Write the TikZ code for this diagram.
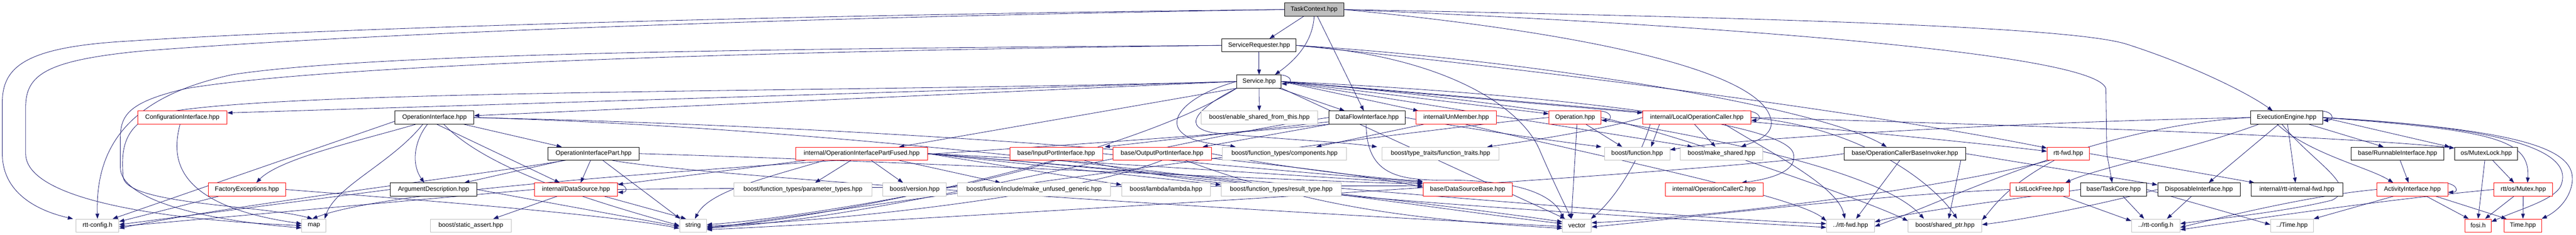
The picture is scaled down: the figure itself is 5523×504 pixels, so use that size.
\documentclass[tikz,border=0pt]{standalone}
\usepackage{fontspec}
\usepackage{tikz}
\usetikzlibrary{arrows.meta,positioning,backgrounds}
\newfontfamily\dotfont{Liberation Sans}
\definecolor{edgeblue}{HTML}{191970}
\definecolor{boxgray}{HTML}{BFBFBF}
\definecolor{boxred}{HTML}{FF0000}
\tikzset{
  hfile/.style={draw, line width=1pt, minimum height=28pt, inner sep=0pt,
    font=\dotfont\fontsize{13.5}{15}\selectfont, fill=white},
  file/.style={hfile, draw=black},
  redfile/.style={hfile, draw=boxred},
  sysfile/.style={hfile, draw=boxgray},
  topfile/.style={hfile, draw=black, fill=boxgray},
  dep/.style={draw=edgeblue, line width=0.9pt,
    -{Triangle[length=11pt,width=8pt]}, fill=none}
}
\begin{document}
\begin{tikzpicture}[x=1pt,y=-1pt]
        \useasboundingbox (0,0) rectangle (5523,504);
        % rows
        \node[topfile, minimum width=127pt] (tc) at (2817.5,20.5) {TaskContext.hpp};
        \node[file, minimum width=159pt] (sr) at (2699.5,97.5) {ServiceRequester.hpp};
        \node[file, minimum width=95pt] (svc) at (2699.5,175) {Service.hpp};
        \node[redfile, minimum width=192pt] (cfg) at (391,252.5) {ConfigurationInterface.hpp};
        \node[file, minimum width=169pt] (opi) at (931.5,252.5) {OperationInterface.hpp};
        \node[sysfile, minimum width=250pt] (esft) at (2700,252.5) {boost/enable\_shared\_from\_this.hpp};
        \node[file, minimum width=164pt] (dfi) at (2931,252.5) {DataFlowInterface.hpp};
        \node[redfile, minimum width=172pt] (unm) at (3122,252.5) {internal/UnMember.hpp};
        \node[redfile, minimum width=112pt] (op) at (3377,252.5) {Operation.hpp};
        \node[redfile, minimum width=232pt] (loc) at (3638,252.5) {internal/LocalOperationCaller.hpp};
        \node[file, minimum width=155pt] (ee) at (4902.5,252.5) {ExecutionEngine.hpp};
        \node[file, minimum width=195pt] (oip) at (1272.5,330) {OperationInterfacePart.hpp};
        \node[redfile, minimum width=283pt] (oipf) at (1847.5,330) {internal/OperationInterfacePartFused.hpp};
        \node[redfile, minimum width=199pt] (ipi) at (2264.5,330) {base/InputPortInterface.hpp};
        \node[redfile, minimum width=211pt] (opo) at (2491.5,330) {base/OutputPortInterface.hpp};
        \node[sysfile, minimum width=266pt] (comp) at (2754,330) {boost/function\_types/components.hpp};
        \node[sysfile, minimum width=251pt] (ftr) at (3088.5,330) {boost/type\_traits/function\_traits.hpp};
        \node[sysfile, minimum width=140pt] (bfn) at (3510,330) {boost/function.hpp};
        \node[sysfile, minimum width=176pt] (mks) at (3691,330) {boost/make\_shared.hpp};
        \node[file, minimum width=260pt] (ocbi) at (4084,330) {base/OperationCallerBaseInvoker.hpp};
        \node[redfile, minimum width=91pt] (fwd) at (4434.5,330) {rtt-fwd.hpp};
        \node[file, minimum width=199pt] (run) at (5140.5,330) {base/RunnableInterface.hpp};
        \node[file, minimum width=135pt] (mlock) at (5330.5,330) {os/MutexLock.hpp};
        \node[redfile, minimum width=165pt] (fexc) at (529.5,407) {FactoryExceptions.hpp};
        \node[file, minimum width=185pt] (arg) at (929.5,407) {ArgumentDescription.hpp};
        \node[redfile, minimum width=178pt] (ds) at (1235,407) {internal/DataSource.hpp};
        \node[sysfile, minimum width=297pt] (ptyp) at (1721.5,407) {boost/function\_types/parameter\_types.hpp};
        \node[sysfile, minimum width=136pt] (ver) at (1961,407) {boost/version.hpp};
        \node[sysfile, minimum width=328pt] (unf) at (2217,407) {boost/fusion/include/make\_unfused\_generic.hpp};
        \node[sysfile, minimum width=190pt] (lam) at (2500,407) {boost/lambda/lambda.hpp};
        \node[sysfile, minimum width=258pt] (rtyp) at (2747,407) {boost/function\_types/result\_type.hpp};
        \node[redfile, minimum width=191pt] (dsb) at (3146.5,407) {base/DataSourceBase.hpp};
        \node[redfile, minimum width=210pt] (occ) at (3675,407) {internal/OperationCallerC.hpp};
        \node[redfile, minimum width=128pt] (llf) at (4373,407) {ListLockFree.hpp};
        \node[file, minimum width=141pt] (tcore) at (4531.5,407) {base/TaskCore.hpp};
        \node[file, minimum width=177pt] (disp) at (4714.5,407) {DisposableInterface.hpp};
        \node[file, minimum width=197pt] (ifwd) at (4924.5,407) {internal/rtt-internal-fwd.hpp};
        \node[redfile, minimum width=152pt] (act) at (5172,407) {ActivityInterface.hpp};
        \node[redfile, minimum width=126pt] (mtx) at (5410,407) {rtt/os/Mutex.hpp};
        \node[sysfile, minimum width=92pt] (cfgh) at (209,484.5) {rtt-config.h};
        \node[sysfile, minimum width=52pt] (map) at (673,484.5) {map};
        \node[sysfile, minimum width=173pt] (sa) at (1009.5,484.5) {boost/static\_assert.hpp};
        \node[sysfile, minimum width=58pt] (str) at (1486,484.5) {string};
        \node[sysfile, minimum width=62pt] (vec) at (3381,484.5) {vector};
        \node[sysfile, minimum width=103pt] (pfwd) at (3967.5,484.5) {../rtt-fwd.hpp};
        \node[sysfile, minimum width=158pt] (shp) at (4170,484.5) {boost/shared\_ptr.hpp};
        \node[sysfile, minimum width=104pt] (pcfg) at (4622,484.5) {../rtt-config.h};
        \node[sysfile, minimum width=92pt] (ptime) at (4914,484.5) {../Time.hpp};
        \node[redfile, minimum width=56pt] (fosi) at (5313,484.5) {fosi.h};
        \node[redfile, minimum width=80pt] (time) at (5409,484.5) {Time.hpp};
        \begin{scope}[on background layer]
        % TaskContext.hpp
        \draw[dep] (tc.west) .. controls (1800,30) and (700,60) .. (280,88) .. controls (60,100) and (5,140) .. (5,220) -- (5,330) .. controls (5,420) and (90,455) .. ([xshift=-6pt]cfgh.north west);
        \draw[dep] (tc.west) .. controls (1800,35) and (800,70) .. (300,110) .. controls (100,130) and (55,160) .. (55,230) -- (55,330) .. controls (55,420) and (300,470) .. (map.west);
        \draw[dep] (tc) -- (sr);
        \draw[dep] (tc.south) .. controls (2815,80) and (2790,120) .. ([xshift=-14pt]svc.north east);
        \draw[dep] (tc) -- (dfi);
        \draw[dep] (tc.east) .. controls (3900,40) and (4450,60) .. (4560,95) .. controls (4700,140) and (4820,200) .. ([xshift=-30pt]ee.north);
        \draw[dep] (tc.east) .. controls (3600,50) and (4490,110) .. (4515,190) -- (4517,330) -- ([xshift=-3pt]tcore.north);
        \draw[dep] (tc.east) .. controls (3400,70) and (3760,150) .. (3795,250) .. controls (3810,290) and (3760,305) .. ([xshift=-47pt]mks.north east);
        % ServiceRequester.hpp
        \draw[dep] (sr) -- (svc);
        \draw[dep] (sr.west) .. controls (1600,105) and (800,115) .. (500,160) .. controls (260,210) and (205,330) .. (cfgh.north);
        \draw[dep] (sr.west) .. controls (1600,110) and (700,140) .. (400,190) .. controls (270,220) and (258,250) .. (258,300) -- (258,360) .. controls (258,420) and (400,470) .. ([yshift=-5pt]map.west);
        \draw[dep] (sr.east) .. controls (3100,120) and (3260,230) .. (3300,320) .. controls (3330,390) and (3355,440) .. ([xshift=-12pt]vec.north);
        \draw[dep] (sr.east) .. controls (3300,150) and (4000,240) .. ([yshift=12pt]fwd.west);
        \draw[dep] (sr.east) .. controls (3300,130) and (3900,230) .. ([xshift=-39pt]ocbi.north);
        % Service.hpp
        \draw[dep] (svc) -- (esft);
        \draw[dep] (svc) -- ([xshift=-48pt]dfi.north);
        \draw[dep] (svc.east) -- ([xshift=-81pt]unm.north);
        \draw[dep] (svc.east) -- ([yshift=8pt]op.west);
        \draw[dep] (svc.east) -- ([yshift=10pt]loc.west);
        \draw[dep] (svc.west) -- ([yshift=10pt]cfg.east);
        \draw[dep] (svc.west) -- ([yshift=4pt]opi.east);
        \draw[dep] (svc.south west) -- ([xshift=80pt]oipf.north);
        \draw[dep] (svc.west) .. controls (2540,205) and (2480,270) .. (2560,300) .. controls (2600,312) and (2630,312) .. ([xshift=-105pt]comp.north);
        \draw[dep] (svc.south west) .. controls (2590,220) and (2520,270) .. (2600,285) .. controls (2750,300) and (2880,305) .. ([xshift=-10pt]ftr.north west);
        \draw[dep] (svc.east) -- ([xshift=-62pt]mks.north);
        \draw[dep] (svc.east) .. controls (3300,220) and (4100,290) .. ([yshift=5pt]fwd.west);
        \draw[dep] (svc.east) .. controls (3300,200) and (3830,260) .. (3845,330) .. controls (3855,370) and (3790,385) .. ([xshift=59pt]occ.north);
        \draw[dep] (svc.east) .. controls (3300,220) and (4000,330) .. ([xshift=-45pt]shp.north);
        \draw[dep] (svc.west) .. controls (1800,200) and (500,190) .. (320,250) .. controls (262,280) and (260,330) .. (264,380) .. controls (270,440) and (560,440) .. ([xshift=-3pt]map.north);
        \draw[dep] (svc.south west) .. controls (2400,350) and (1700,480) .. ([yshift=-3pt]str.east);
        \draw[dep] (svc.south east) -- ([xshift=-25pt]vec.north);
        \draw[dep] ([xshift=-15pt]svc.north east) .. controls +(40,-2) and +(25,0) .. ([yshift=-5pt]svc.east);
        % OperationInterface.hpp
        \draw[dep] (opi) -- ([xshift=-68pt]oip.north);
        \draw[dep] ([xshift=-15pt]opi.south) .. controls (890,300) and (880,350) .. ([xshift=-20pt]arg.north);
        \draw[dep] ([xshift=5pt]opi.south) -- ([xshift=-35pt]ds.north);
        \draw[dep] ([xshift=-40pt]opi.south) .. controls (780,300) and (600,340) .. ([xshift=20pt]fexc.north);
        \draw[dep] ([yshift=-8pt]opi.west) -- ([xshift=-14pt]cfgh.north east);
        \draw[dep] ([xshift=-25pt]opi.south) .. controls (840,350) and (720,400) .. ([xshift=23pt]map.north);
        \draw[dep] ([xshift=20pt]opi.south) .. controls (1050,370) and (1300,440) .. (str.west);
        \draw[dep] (opi.east) .. controls (1800,270) and (2700,330) .. ([yshift=5pt]dsb.west);
        \draw[dep] (opi.east) .. controls (2000,280) and (3000,440) .. ([yshift=4pt]vec.west);
        % OperationInterfacePart.hpp
        \draw[dep] (oip) -- ([xshift=-27pt]arg.north east);
        \draw[dep] (oip) -- ([xshift=10pt]ds.north);
        \draw[dep] ([xshift=20pt]oip.south) -- ([xshift=2pt]str.north west);
        \draw[dep] ([xshift=-60pt]oip.south) .. controls (1000,380) and (500,440) .. ([yshift=-6pt]cfgh.east);
        \draw[dep] (oip.east) .. controls (1900,345) and (2800,390) .. ([yshift=12pt]dsb.west);
        \draw[dep] ([xshift=40pt]oip.south) .. controls (1500,380) and (2800,460) .. ([yshift=-2pt]vec.west);
        % internal/DataSource.hpp
        \draw[dep] ([xshift=-40pt]ds.south) -- ([xshift=48pt]sa.north);
        \draw[dep] (ds.west) -- ([yshift=-2pt]cfgh.east);
        \draw[dep] ([xshift=60pt]ds.south) -- ([xshift=-15pt]str.north);
        \draw[dep] (ds.east) .. controls (2000,400) and (2800,400) .. ([yshift=8pt]dsb.west);
        \draw[dep] ([xshift=-20pt]ds.north east) .. controls +(40,-2) and +(25,0) .. ([yshift=-6pt]ds.east);
        % FactoryExceptions.hpp, ArgumentDescription.hpp, ConfigurationInterface.hpp
        \draw[dep] ([xshift=-60pt]fexc.south) -- ([yshift=-6pt]cfgh.north east);
        \draw[dep] (fexc.east) .. controls (900,430) and (1300,460) .. ([yshift=-6pt]str.west);
        \draw[dep] (arg.west) -- ([yshift=2pt]cfgh.east);
        \draw[dep] (arg.east) -- ([yshift=-2pt]str.west);
        \draw[dep] ([xshift=-5pt]cfg.south) .. controls (370,330) and (360,440) .. ([yshift=4pt]map.west);
        % internal/OperationInterfacePartFused.hpp
        \draw[dep] (oipf) -- ([xshift=26pt]ptyp.north);
        \draw[dep] (oipf) -- ([xshift=-25pt]ver.north);
        \draw[dep] ([xshift=80pt]oipf.south) -- ([xshift=-72pt]unf.north);
        \draw[dep] (oipf.east) -- ([yshift=10pt]lam.west);
        \draw[dep] (oipf.east) -- ([yshift=10pt]rtyp.west);
        \draw[dep] ([xshift=-80pt]oipf.south) .. controls (1650,380) and (1520,410) .. ([xshift=4pt]str.north);
        \draw[dep] ([xshift=-120pt]oipf.south) -- ([yshift=-4pt]ds.north east);
        \draw[dep] (oipf.east) .. controls (2400,350) and (2800,380) .. ([yshift=14pt]dsb.west);
        \draw[dep] (oipf.east) .. controls (2500,370) and (3100,440) .. ([yshift=8pt]vec.west);
        \draw[dep] (oipf.east) .. controls (2600,380) and (3600,470) .. ([yshift=4pt]pfwd.west);
        % port interfaces, DataFlowInterface.hpp
        \draw[dep] (ipi.east) .. controls (2500,345) and (2900,380) .. ([yshift=16pt]dsb.west);
        \draw[dep] (ipi.south) .. controls (2100,400) and (1700,470) .. ([yshift=2pt]str.east);
        \draw[dep] ([xshift=60pt]ipi.south) .. controls (2600,420) and (3600,470) .. ([yshift=-4pt]pfwd.west);
        \draw[dep] (opo.east) .. controls (2700,350) and (2900,380) .. ([yshift=18pt]dsb.west);
        \draw[dep] (opo.south) .. controls (2300,420) and (1800,475) .. ([yshift=-1pt]str.east);
        \draw[dep] ([xshift=50pt]opo.south) .. controls (2800,440) and (3000,470) .. ([yshift=-6pt]vec.west);
        \draw[dep] (dfi) -- ([xshift=4pt]ipi.north east);
        \draw[dep] (dfi) -- ([xshift=-19pt]opo.north east);
        \draw[dep] (dfi.east) .. controls (3200,285) and (3350,305) .. ([xshift=-6pt]bfn.north west);
        \draw[dep] ([xshift=-2pt]dfi.south) .. controls (2930,370) and (2990,385) .. (3080,387) .. controls (3200,385) and (3320,400) .. ([xshift=-28pt]vec.north);
        \draw[dep] (dfi.west) .. controls (2500,300) and (1900,470) .. ([yshift=-5pt]str.east);
        \draw[dep] (dfi.south west) .. controls (2200,330) and (900,380) .. ([xshift=23pt]map.north west);
        % UnMember, Operation, LocalOperationCaller
        \draw[dep] (unm) -- ([xshift=68pt]comp.north);
        \draw[dep] ([xshift=20pt]unm.south) .. controls (3400,330) and (3850,420) .. ([yshift=10pt]pfwd.west);
        \draw[dep] (op) -- ([xshift=-32pt]bfn.north);
        \draw[dep] ([xshift=4pt]op.south) -- ([xshift=-12pt]vec.north);
        \draw[dep] (op.east) .. controls (3600,290) and (4000,430) .. ([yshift=10pt]shp.west);
        \draw[dep] (op.west) .. controls (3100,270) and (2000,420) .. ([yshift=-7pt]str.east);
        \draw[dep] ([xshift=-15pt]op.north east) .. controls +(40,-2) and +(25,0) .. ([yshift=-6pt]op.east);
        \draw[dep] ([xshift=-80pt]loc.south) -- ([xshift=30pt]bfn.north);
        \draw[dep] ([xshift=-5pt]loc.south) -- ([xshift=-13pt]mks.north);
        \draw[dep] (loc.west) .. controls (3450,275) and (3300,300) .. ([xshift=-26pt]ftr.north east);
        \draw[dep] ([xshift=-100pt]loc.south) .. controls (3520,330) and (3470,420) .. ([xshift=30pt]vec.north);
        \draw[dep] ([xshift=60pt]loc.south) .. controls (3800,330) and (3940,400) .. ([xshift=-12pt]pfwd.north);
        \draw[dep] (loc.east) .. controls (4200,265) and (5000,290) .. ([yshift=12pt]mlock.west);
        \draw[dep] (loc.east) .. controls (4000,275) and (4150,400) .. ([xshift=26pt]shp.north);
        \draw[dep] ([xshift=-20pt]loc.north east) .. controls +(40,-2) and +(25,0) .. ([yshift=-6pt]loc.east);
        % OperationCallerBaseInvoker, rtt-fwd, ListLockFree, TaskCore, DisposableInterface
        \draw[dep] (ocbi) -- ([xshift=12pt]pfwd.north);
        \draw[dep] (ocbi.east) -- ([yshift=10pt]disp.west);
        \draw[dep] (ocbi.west) .. controls (3700,370) and (2000,470) .. ([yshift=-9pt]str.east);
        \draw[dep] ([xshift=120pt]ocbi.south) -- ([xshift=8pt]shp.north);
        \draw[dep] (fwd.east) -- ([xshift=8pt]ifwd.north west);
        \draw[dep] ([xshift=-30pt]fwd.south) .. controls (4300,400) and (4270,450) .. ([yshift=12pt]shp.east);
        \draw[dep] ([xshift=-40pt]fwd.south) .. controls (4100,420) and (3600,470) .. ([yshift=6pt]vec.east);
        \draw[dep] ([xshift=50pt]llf.south) -- ([yshift=10pt]pcfg.west);
        \draw[dep] (llf.west) .. controls (4000,420) and (3600,470) .. ([yshift=-3pt]vec.east);
        \draw[dep] ([xshift=20pt]tcore.south) -- ([xshift=-25pt]pcfg.north);
        \draw[dep] (tcore.east) -- ([yshift=2pt]ptime.west);
        \draw[dep] (tcore.west) .. controls (4300,430) and (4100,455) .. ([yshift=8pt]pfwd.east);
        \draw[dep] (disp) -- ([xshift=24pt]pcfg.north);
        \draw[dep] (disp.west) .. controls (4500,440) and (4350,470) .. ([yshift=2pt]shp.east);
        % ExecutionEngine.hpp
        \draw[dep] (ee) -- ([xshift=-30pt]run.north);
        \draw[dep] (ee.east) -- ([xshift=-10pt]mlock.north west);
        \draw[dep] ([xshift=-20pt]ee.south) .. controls (4950,330) and (5080,360) .. ([xshift=-41pt]act.north);
        \draw[dep] (ee) -- ([xshift=-3pt]ifwd.north);
        \draw[dep] (ee) -- ([xshift=21pt]disp.north);
        \draw[dep] ([xshift=-60pt]ee.south) .. controls (4700,320) and (4500,360) .. ([xshift=55pt]llf.north);
        \draw[dep] (ee.east) .. controls (5350,280) and (5425,300) .. ([xshift=9pt]mtx.north);
        \draw[dep] (ee.east) .. controls (5400,275) and (5520,330) .. (5490,400) .. controls (5475,430) and (5400,450) .. ([yshift=8pt]fosi.east);
        \draw[dep] (ee.east) .. controls (5450,280) and (5520,330) .. (5515,390) .. controls (5510,430) and (5480,455) .. (time.north east);
        \draw[dep] (ee.west) .. controls (4500,270) and (4200,420) .. ([yshift=-2pt]pfwd.east);
        \draw[dep] ([xshift=-10pt]ee.south) .. controls (4960,350) and (5060,400) .. (5000,430) .. controls (4900,455) and (4750,470) .. ([yshift=4pt]pcfg.east);
        \draw[dep] (ee.west) .. controls (4300,262) and (3700,300) .. ([yshift=8pt]bfn.east);
        \draw[dep] ([xshift=-15pt]ee.north east) .. controls +(40,-2) and +(25,0) .. ([yshift=-6pt]ee.east);
        % RunnableInterface, MutexLock, ActivityInterface, Mutex
        \draw[dep] (run) -- ([xshift=-8pt]act.north);
        \draw[dep] ([xshift=-3pt]mlock.south) -- (fosi.north);
        \draw[dep] (mlock) -- ([xshift=-20pt]mtx.north);
        \draw[dep] ([xshift=-40pt]act.south) -- (ptime.north east);
        \draw[dep] ([xshift=30pt]act.south) -- ([xshift=-20pt]fosi.north);
        \draw[dep] ([xshift=50pt]act.south) -- ([xshift=-35pt]time.north);
        \draw[dep] (act.west) .. controls (4950,420) and (4750,470) .. ([yshift=-4pt]pcfg.east);
        \draw[dep] ([xshift=-20pt]act.north east) .. controls +(40,-2) and +(25,0) .. ([yshift=-6pt]act.east);
        \draw[dep] ([xshift=-20pt]mtx.south) -- ([xshift=15pt]fosi.north);
        \draw[dep] (mtx) -- (time);
        \draw[dep] (mtx.west) .. controls (5100,430) and (4800,475) .. ([yshift=-9pt]pcfg.east);
        \end{scope}
\end{tikzpicture}
\end{document}
